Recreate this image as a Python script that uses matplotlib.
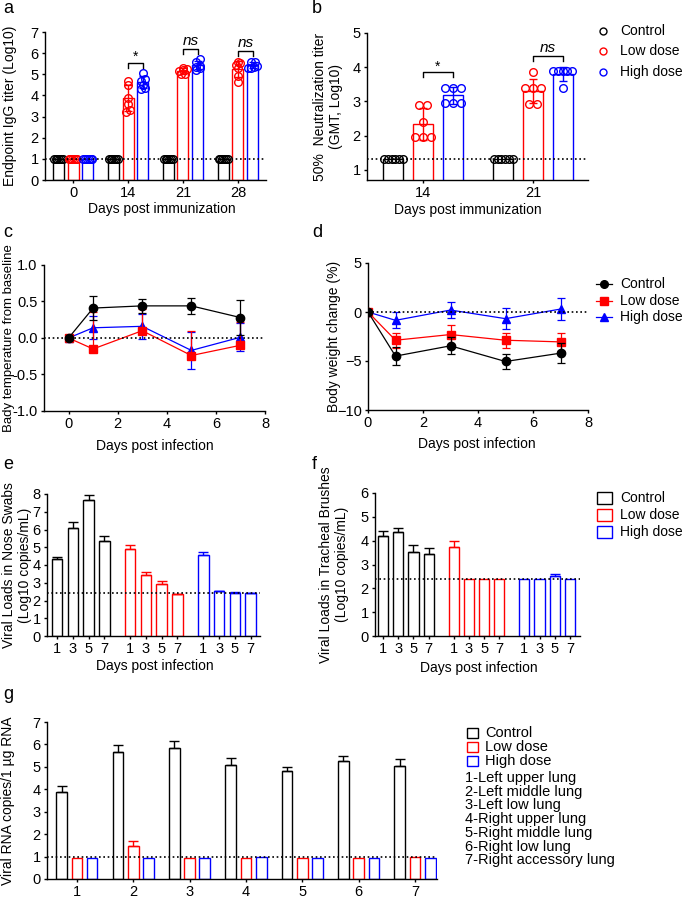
import numpy as np
import matplotlib
matplotlib.use('Agg')
import matplotlib.pyplot as plt
from matplotlib.patches import Rectangle
from matplotlib.lines import Line2D

plt.rcParams['font.family'] = ['Liberation Sans', 'DejaVu Sans']
plt.rcParams['font.size'] = 10
plt.rcParams['axes.linewidth'] = 1.0
plt.rcParams['xtick.major.width'] = 1.0
plt.rcParams['ytick.major.width'] = 1.0
plt.rcParams['xtick.major.size'] = 2.5
plt.rcParams['ytick.major.size'] = 2.5
plt.rcParams['xtick.major.pad'] = 2
plt.rcParams['ytick.major.pad'] = 2

# ---------------- data ----------------
groups = ['Control', 'Low dose', 'High dose']
colors = ['black', '#ff0000', '#0000ff']

# a: endpoint IgG titer (Log10), individual animals
igg_days = ['0', '14', '21', '28']
igg_ctrl = [[1.0] * 6, [1.0] * 6, [1.0] * 6, [1.0] * 6]
igg_low = [[1.0] * 6, [4.7, 4.5, 3.9, 3.6, 3.3, 3.2],
           [5.3, 5.25, 5.2, 5.15, 5.0, 5.0], [5.6, 5.55, 5.45, 5.3, 4.9, 4.65]]
igg_high = [[1.0] * 6, [5.05, 4.8, 4.7, 4.5, 4.35, 4.3],
            [5.7, 5.6, 5.4, 5.35, 5.3, 5.2], [5.6, 5.6, 5.4, 5.35, 5.3, 5.3]]
igg_sig = ['', '*', 'ns', 'ns']
igg_lod = 1.0

# b: 50% neutralization titer (GMT, Log10)
neut_days = ['14', '21']
neut_ctrl = [[1.3] * 6, [1.3] * 6]
neut_low = [[2.9, 2.9, 2.4, 1.95, 1.95, 1.95], [3.85, 3.4, 3.4, 3.4, 2.92, 2.92]]
neut_high = [[3.4, 3.4, 3.4, 2.95, 2.95, 2.95], [3.88, 3.88, 3.88, 3.88, 3.88, 3.4]]
neut_sig = ['*', 'ns']
neut_lod = 1.3

# c/d: days post infection
inf_days = [0, 1, 3, 5, 7]
temp_ctrl = [0, 0.41, 0.44, 0.44, 0.28]
temp_ctrl_sd = [0, 0.17, 0.10, 0.11, 0.24]
temp_low = [0, -0.15, 0.10, -0.24, -0.10]
temp_low_sd = [0, 0.50, 0.30, 0.33, 0.32]
temp_high = [0, 0.14, 0.16, -0.17, 0.01]
temp_high_sd = [0, 0.16, 0.17, 0.25, 0.19]

wt_ctrl = [0, -4.5, -3.45, -5.05, -4.2]
wt_ctrl_sd = [0, 0.93, 0.87, 0.75, 1.0]
wt_low = [0, -2.88, -2.3, -2.88, -3.05]
wt_low_sd = [0, 0.75, 0.93, 0.78, 0.9]
wt_high = [0, -0.85, 0.2, -0.68, 0.3]
wt_high_sd = [0, 0.8, 0.8, 1.08, 1.1]

# e/f: viral loads
vl_days = ['1', '3', '5', '7']
nose_ctrl = [4.32, 6.1, 7.65, 5.38]
nose_ctrl_sd = [0.15, 0.3, 0.32, 0.27]
nose_low = [4.9, 3.42, 2.95, 2.35]
nose_low_sd = [0.2, 0.2, 0.17, 0.04]
nose_high = [4.55, 2.52, 2.45, 2.42]
nose_high_sd = [0.2, 0.04, 0.02, 0.02]
nose_lod = 2.45

trach_ctrl = [4.18, 4.35, 3.53, 3.42]
trach_ctrl_sd = [0.24, 0.18, 0.27, 0.28]
trach_low = [3.72, 2.4, 2.4, 2.4]
trach_low_sd = [0.28, 0, 0, 0]
trach_high = [2.4, 2.4, 2.53, 2.4]
trach_high_sd = [0, 0, 0.08, 0]
trach_lod = 2.4

# g: lung viral RNA
lung_ids = ['1', '2', '3', '4', '5', '6', '7']
lung_ctrl = [3.86, 5.67, 5.85, 5.07, 4.82, 5.24, 5.06]
lung_ctrl_sd = [0.29, 0.31, 0.31, 0.32, 0.17, 0.23, 0.28]
lung_low = [0.95, 1.48, 0.95, 0.95, 0.95, 0.95, 0.98]
lung_low_sd = [0, 0.21, 0, 0, 0, 0, 0]
lung_high = [0.95, 0.95, 0.95, 0.98, 0.95, 0.95, 0.95]
lung_high_sd = [0, 0, 0, 0, 0, 0, 0]
lung_lod = 1.0
lung_names = ['1-Left upper lung', '2-Left middle lung', '3-Left low lung',
              '4-Right upper lung', '5-Right middle lung', '6-Right low lung',
              '7-Right accessory lung']

# ---------------- figure ----------------
W, H = 685, 902
fig = plt.figure(figsize=(W / 100, H / 100), dpi=100)


def px_axes(x0, y0, x1, y1):
    ax = fig.add_axes([x0 / W, 1 - y1 / H, (x1 - x0) / W, (y1 - y0) / H])
    ax.spines['top'].set_visible(False)
    ax.spines['right'].set_visible(False)
    return ax


def fx(x):
    return x / W


def fy(y):
    return 1 - y / H


def ylab(ax, text, x_right, fs=10):
    ax.set_ylabel(text, fontsize=fs)
    bb = ax.get_position()
    ax.yaxis.set_label_coords((fx(x_right) - bb.x0) / bb.width, 0.5)


def xlab(ax, text, x_center, y_top):
    ax.set_xlabel(text)
    bb = ax.get_position()
    ax.xaxis.set_label_coords((fx(x_center) - bb.x0) / bb.width, (fy(y_top) - bb.y0) / bb.height)


def letter(x, y, s):
    fig.text(fx(x), fy(y), s, fontsize=13, va='top', ha='left')


def lod_line(ax, y):
    ax.axhline(y, color='black', lw=1.2, linestyle=(0, (1, 1.6)), zorder=6)


def swarm(vals, d, span, tol):
    vals = np.asarray(vals)
    order = np.argsort(vals)
    clusters = []
    for i in order:
        if clusters and vals[i] - vals[clusters[-1][0]] <= tol:
            clusters[-1].append(i)
        else:
            clusters.append([i])
    offs = np.zeros(len(vals))
    for c in clusters:
        n = len(c)
        step = d if n < 2 else min(d, span / (n - 1))
        for k, i in enumerate(c):
            offs[i] = (k - (n - 1) / 2) * step
    return offs


def dot_bars(ax, data_sets, off, width, d, span, tol, ms):
    for gi, sets in enumerate(data_sets):
        for di, vals in enumerate(sets):
            x = di + (gi - 1) * off
            m = np.mean(vals)
            sd = np.std(vals, ddof=1)
            ax.bar(x, m, width=width, facecolor='white', edgecolor=colors[gi], lw=1.0, zorder=2)
            xs = x + swarm(vals, d, span, tol)
            ax.plot(xs, vals, 'o', mfc='none', mec=colors[gi], ms=ms, mew=1.0, zorder=4)
            if sd > 0:
                ax.errorbar(x, m, yerr=sd, fmt='none', ecolor=colors[gi], elinewidth=1.0,
                            capsize=3, capthick=1.0, zorder=5)


def sig_brackets(ax, lows, highs, sigs, off, pad, leg):
    for di, s in enumerate(sigs):
        if not s:
            continue
        top = max(max(lows[di]), max(highs[di])) + pad
        x0, x1 = di, di + off
        ax.plot([x0, x0, x1, x1], [top - leg, top, top, top - leg], color='black', lw=1.0)
        if s == 'ns':
            ax.text((x0 + x1) / 2, top + 0.03, s, style='italic', fontsize=11, ha='center', va='bottom')
        else:
            ax.text((x0 + x1) / 2, top - 0.05, s, fontsize=10, ha='center', va='bottom')


def legend_rows(kind, x_handle, x_text, y_rows, fs=10):
    for c, lab, y in zip(colors, groups, y_rows):
        if kind == 'circle':
            fig.add_artist(Line2D([fx(x_handle)], [fy(y)], transform=fig.transFigure, marker='o',
                                  mfc='none', mec=c, ms=5, mew=1.0, ls='none'))
        elif kind == 'line':
            mk = {'black': 'o', '#ff0000': 's', '#0000ff': '^'}[c]
            fig.add_artist(Line2D([fx(x_handle - 8), fx(x_handle + 8)], [fy(y), fy(y)],
                                  transform=fig.transFigure, color=c, lw=0.9))
            fig.add_artist(Line2D([fx(x_handle)], [fy(y)], transform=fig.transFigure, marker=mk,
                                  color=c, ms=5.5, ls='none'))
        else:
            w, h = kind
            fig.add_artist(Rectangle((fx(x_handle), fy(y + h / 2)), w / W, h / H, transform=fig.transFigure,
                                     fill=False, edgecolor=c, lw=1.0))
        fig.text(fx(x_text), fy(y), lab, fontsize=fs, va='center', ha='left')


# ---- a ----
ax = px_axes(45, 32, 266, 180)
dot_bars(ax, [igg_ctrl, igg_low, igg_high], 0.27, 0.2, 0.07, 0.16, 0.12, 5.5)
sig_brackets(ax, igg_low, igg_high, igg_sig, 0.27, 0.5, 0.25)
lod_line(ax, igg_lod)
ax.set_xlim(-0.51, 3.51)
ax.set_ylim(0, 7)
ax.set_yticks(range(0, 8))
ax.set_xticks(range(len(igg_days)))
ax.set_xticklabels(igg_days)
ax.tick_params(labelsize=10.5)
ylab(ax, 'Endpoint IgG titer (Log10)', 17)
xlab(ax, 'Days post immunization', 162, 202)
letter(3, 0, 'a')

# ---- b ----
ax = px_axes(367, 33, 588, 180)
dot_bars(ax, [neut_ctrl, neut_low, neut_high], 0.27, 0.18, 0.075, 0.17, 0.1, 5.5)
sig_brackets(ax, neut_low, neut_high, neut_sig, 0.27, 0.45, 0.15)
lod_line(ax, neut_lod)
ax.set_xlim(-0.51, 1.5)
ax.set_ylim(0.7, 5)
ax.set_yticks(range(1, 6))
ax.set_xticks(range(len(neut_days)))
ax.set_xticklabels(neut_days)
ax.tick_params(labelsize=10.5)
ylab(ax, '50%  Neutralization titer\n(GMT, Log10)', 343)
xlab(ax, 'Days post immunization', 468, 203)
letter(312, 0, 'b')
legend_rows('circle', 603, 620, [31, 51, 72])

# ---- c ----
ax = px_axes(44, 265, 265, 411)
series_c = [(temp_ctrl, temp_ctrl_sd, 'o'), (temp_low, temp_low_sd, 's'), (temp_high, temp_high_sd, '^')]
for gi, (y, sd, mk) in enumerate(series_c):
    sd = np.array(sd)
    yerr = [np.zeros_like(sd), sd] if gi == 1 else sd
    ax.errorbar(inf_days, y, yerr=yerr, color=colors[gi], marker=mk, ms=6, lw=0.9,
                elinewidth=0.9, capsize=3, capthick=0.9, zorder=4 - gi)
lod_line(ax, 0)
ax.set_xlim(-1, 8)
ax.set_ylim(-1, 1)
ax.set_xticks([0, 2, 4, 6, 8])
ax.set_yticks([-1, -0.5, 0, 0.5, 1])
ax.set_yticklabels(['-1.0', '-0.5', '0.0', '0.5', '1.0'])
ax.tick_params(labelsize=10.5)
ylab(ax, 'Bady temperature from baseline', 15, fs=9.5)
xlab(ax, 'Days post infection', 155, 439)
letter(3, 224, 'c')

# ---- d ----
ax = px_axes(368, 263, 588, 410)
series_d = [(wt_ctrl, wt_ctrl_sd, 'o'), (wt_low, wt_low_sd, 's'), (wt_high, wt_high_sd, '^')]
for gi, (y, sd, mk) in enumerate(series_d):
    ax.errorbar(inf_days, y, yerr=sd, color=colors[gi], marker=mk, ms=6, lw=0.9,
                elinewidth=0.9, capsize=3, capthick=0.9, zorder=4 - gi)
lod_line(ax, 0)
ax.set_xlim(0, 8)
ax.set_ylim(-10, 5)
ax.set_xticks([0, 2, 4, 6, 8])
ax.set_yticks([-10, -5, 0, 5])
ax.tick_params(labelsize=10.5)
ylab(ax, 'Body weight change (%)', 341)
xlab(ax, 'Days post infection', 477, 437)
letter(312, 224, 'd')
legend_rows('line', 604, 620, [284, 301, 317], fs=10)


# ---- e / f ----
def grouped_bars(ax, sets, gap):
    pos_all = []
    for gi, (vals, sd) in enumerate(sets):
        pos = np.arange(len(vals)) + gi * (len(vals) - 1 + gap)
        ax.bar(pos, vals, width=0.67, facecolor='white', edgecolor=colors[gi], lw=1.0, zorder=2)
        sd = np.array(sd)
        keep = sd > 0
        ax.errorbar(pos[keep], np.array(vals)[keep], yerr=[np.zeros(keep.sum()), sd[keep]], fmt='none',
                    ecolor=colors[gi], elinewidth=1.0, capsize=3.5, capthick=1.0, zorder=3)
        pos_all.extend(pos)
    ax.set_xticks(pos_all)
    ax.set_xticklabels(vl_days * len(sets))
    ax.tick_params(labelsize=10.5)


ax = px_axes(47, 494, 260, 636)
grouped_bars(ax, [(nose_ctrl, nose_ctrl_sd), (nose_low, nose_low_sd), (nose_high, nose_high_sd)], 1.65)
lod_line(ax, nose_lod)
ax.set_xlim(-0.64, 12.9)
ax.set_ylim(0, 8)
ax.set_yticks(range(0, 9))
ylab(ax, 'Viral Loads in Nose Swabs\n(Log10 copies/mL)', 32)
xlab(ax, 'Days post infection', 155, 659)
letter(3, 456, 'e')

ax = px_axes(375, 493, 580, 636)
grouped_bars(ax, [(trach_ctrl, trach_ctrl_sd), (trach_low, trach_low_sd), (trach_high, trach_high_sd)], 1.65)
lod_line(ax, trach_lod)
ax.set_xlim(-0.53, 12.96)
ax.set_ylim(0, 6)
ax.set_yticks(range(0, 7))
ylab(ax, 'Viral Loads in Tracheal Brushes\n(Log10 copies/mL)', 349)
xlab(ax, 'Days post infection', 479, 661)
letter(312, 456, 'f')
legend_rows((15, 12), 597, 620, [498, 515, 532], fs=10)

# ---- g ----
ax = px_axes(47, 722, 437, 879)
x = np.arange(1, len(lung_ids) + 1)
for gi, (vals, sd) in enumerate([(lung_ctrl, lung_ctrl_sd), (lung_low, lung_low_sd), (lung_high, lung_high_sd)]):
    pos = x + (gi - 1) * 0.27
    ax.bar(pos, vals, width=0.19, facecolor='white', edgecolor=colors[gi], lw=1.0, zorder=2)
    sd = np.array(sd)
    keep = sd > 0
    ax.errorbar(pos[keep], np.array(vals)[keep], yerr=[np.zeros(keep.sum()), sd[keep]], fmt='none',
                ecolor=colors[gi], elinewidth=1.0, capsize=3.5, capthick=1.0, zorder=3)
lod_line(ax, lung_lod)
ax.set_xlim(0.47, 7.39)
ax.set_ylim(0, 7)
ax.set_yticks(range(0, 8))
ax.set_xticks(x)
ax.set_xticklabels(lung_ids)
ax.tick_params(labelsize=10.5)
ylab(ax, 'Viral RNA copies/1 µg RNA', 15)
letter(3, 686, 'g')
legend_rows((11, 10), 467, 485, [733, 747, 761], fs=10.5)
for i, name in enumerate(lung_names):
    fig.text(fx(465), fy(778 + i * 13.7), name, fontsize=10.5, va='center', ha='left')

fig.savefig('out.png', dpi=100)
